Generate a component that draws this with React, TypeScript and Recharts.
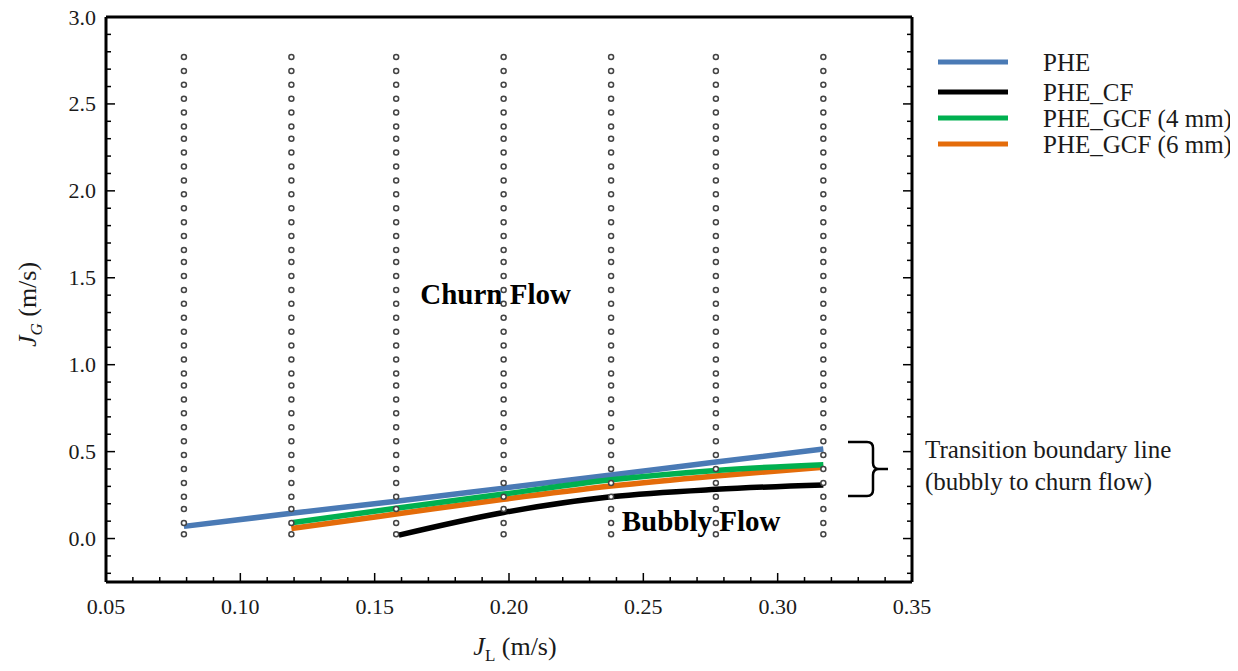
import React from "react";
import {
  ComposedChart,
  Line,
  Scatter,
  XAxis,
  YAxis,
  Legend,
  ReferenceDot,
  Label,
} from "recharts";

// J_L positions of the measured test points, and the J_G levels of each column
const jlColumns = [0.079, 0.119, 0.158, 0.198, 0.238, 0.277, 0.317];
const jgLevels = [
  0.025, 0.09, 0.17, 0.24, 0.32, 0.4, 0.48, 0.56, 0.64, 0.72, 0.8, 0.88, 0.95,
  1.03, 1.11, 1.19, 1.27, 1.35, 1.43, 1.51, 1.59, 1.66, 1.74, 1.82, 1.9, 1.98,
  2.06, 2.14, 2.22, 2.3, 2.37, 2.45, 2.53, 2.61, 2.69, 2.77,
];

// transition boundary lines
const pheJL = [0.079, 0.119, 0.158, 0.198, 0.238, 0.277, 0.317];
const pheJG = [0.07, 0.145, 0.215, 0.29, 0.365, 0.44, 0.515];
const pheCfJL = [0.159, 0.198, 0.238, 0.277, 0.317];
const pheCfJG = [0.02, 0.15, 0.24, 0.283, 0.308];
const gcf4JL = [0.119, 0.158, 0.198, 0.238, 0.277, 0.317];
const gcf4JG = [0.091, 0.174, 0.256, 0.338, 0.392, 0.425];
const gcf6JL = [0.119, 0.158, 0.198, 0.238, 0.277, 0.317];
const gcf6JG = [0.058, 0.141, 0.226, 0.302, 0.36, 0.41];

const xMajorTicks = [0.05, 0.1, 0.15, 0.2, 0.25, 0.3, 0.35];
const xMinorTicks = [
  0.06, 0.07, 0.08, 0.09, 0.11, 0.12, 0.13, 0.14, 0.16, 0.17, 0.18, 0.19, 0.21,
  0.22, 0.23, 0.24, 0.26, 0.27, 0.28, 0.29, 0.31, 0.32, 0.33, 0.34,
];
const yMajorTicks = [0, 0.5, 1, 1.5, 2, 2.5, 3];
const yMinorTicks = [
  -0.2, -0.1, 0.1, 0.2, 0.3, 0.4, 0.6, 0.7, 0.8, 0.9, 1.1, 1.2, 1.3, 1.4, 1.6,
  1.7, 1.8, 1.9, 2.1, 2.2, 2.3, 2.4, 2.6, 2.7, 2.8, 2.9,
];

const xTicks = [...xMajorTicks, ...xMinorTicks].sort((a, b) => a - b);
const yTicks = [...yMajorTicks, ...yMinorTicks].sort((a, b) => a - b);

const toPoints = (xs: number[], ys: number[]) =>
  xs.map((x, i) => ({ x, y: ys[i] }));

const pointData = jlColumns.flatMap((x) => jgLevels.map((y) => ({ x, y })));

const series = [
  { name: "PHE", color: "#4a7ab5", data: toPoints(pheJL, pheJG) },
  { name: "PHE_CF", color: "#000000", data: toPoints(pheCfJL, pheCfJG) },
  { name: "PHE_GCF (4 mm)", color: "#00b050", data: toPoints(gcf4JL, gcf4JG) },
  { name: "PHE_GCF (6 mm)", color: "#e46c0a", data: toPoints(gcf6JL, gcf6JG) },
];
// draw order: orange under green
const drawOrder = [0, 1, 3, 2];

const font = "'Liberation Serif', 'Times New Roman', serif";
const textColor = "#1a1a1a";

const BottomTick = (props: any) => {
  const { x, y, payload } = props;
  const major = xMajorTicks.includes(payload.value);
  return (
    <g>
      <line x1={x} y1={y} x2={x} y2={y - (major ? 9 : 5)} stroke="#000" strokeWidth={1.5} />
      {major && (
        <text x={x} y={y + 24} textAnchor="middle" dominantBaseline="central"
          fontSize={22} fontFamily={font} fill={textColor}>
          {payload.value.toFixed(2)}
        </text>
      )}
    </g>
  );
};

const TopTick = (props: any) => {
  const { x, y, payload } = props;
  const major = xMajorTicks.includes(payload.value);
  return <line x1={x} y1={y} x2={x} y2={y + (major ? 9 : 5)} stroke="#000" strokeWidth={1.5} />;
};

const LeftTick = (props: any) => {
  const { x, y, payload } = props;
  const major = yMajorTicks.includes(payload.value);
  return (
    <g>
      <line x1={x} y1={y} x2={x + (major ? 9 : 5)} y2={y} stroke="#000" strokeWidth={1.5} />
      {major && (
        <text x={x - 10} y={y} textAnchor="end" dominantBaseline="central"
          fontSize={22} fontFamily={font} fill={textColor}>
          {payload.value.toFixed(1)}
        </text>
      )}
    </g>
  );
};

const RightTick = (props: any) => {
  const { x, y, payload } = props;
  const major = yMajorTicks.includes(payload.value);
  return <line x1={x} y1={y} x2={x - (major ? 9 : 5)} y2={y} stroke="#000" strokeWidth={1.5} />;
};

const XTitle = ({ viewBox }: any) => (
  <text x={viewBox.x + viewBox.width / 2 + 6} y={viewBox.y + 73} textAnchor="middle"
    fontSize={26} fontFamily={font} fill={textColor}>
    <tspan fontStyle="italic">J</tspan>
    <tspan dy={6} fontSize={17}>L</tspan>
    <tspan dy={-6}> (m/s)</tspan>
  </text>
);

const YTitle = ({ viewBox }: any) => (
  <text transform={`translate(28, ${viewBox.y + viewBox.height / 2 + 5}) rotate(-90)`}
    textAnchor="middle" fontSize={26} fontFamily={font} fill={textColor}>
    <tspan fontStyle="italic">J</tspan>
    <tspan dy={6} fontSize={17} fontStyle="italic">G</tspan>
    <tspan dy={-6}> (m/s)</tspan>
  </text>
);

const rowY = [16, 46, 72, 98];
const LegendBox = () => (
  <svg width={310} height={120} style={{ overflow: "visible" }}>
    {series.map((s, i) => (
      <g key={s.name}>
        <line x1={0} x2={70} y1={rowY[i]} y2={rowY[i]} stroke={s.color} strokeWidth={5} />
        <text x={105} y={rowY[i]} dominantBaseline="central" fontSize={25}
          fontFamily={font} fill={textColor}>
          {s.name}
        </text>
      </g>
    ))}
  </svg>
);

const Brace = (props: any) => {
  const { cx, cy } = props;
  const bx = cx - 39;
  return (
    <g>
      <path
        d={`M ${bx - 25} ${cy - 27} H ${bx - 6} Q ${bx} ${cy - 27} ${bx} ${cy - 21} V ${cy - 6} Q ${bx} ${cy} ${bx + 6} ${cy} H ${bx + 15} M ${bx + 6} ${cy} Q ${bx} ${cy} ${bx} ${cy + 6} V ${cy + 21} Q ${bx} ${cy + 27} ${bx - 6} ${cy + 27} H ${bx - 25}`}
        fill="none" stroke="#000" strokeWidth={2.5} />
      <text x={cx + 13} y={cy - 11} fontSize={25} fontFamily={font} fill={textColor}>
        Transition boundary line
      </text>
      <text x={cx + 13} y={cy + 21} fontSize={25} fontFamily={font} fill={textColor}>
        (bubbly to churn flow)
      </text>
    </g>
  );
};

const RegionText = (label: string) => (props: any) => (
  <text x={props.cx} y={props.cy} textAnchor="middle" fontSize={29} fontWeight="bold"
    fontFamily={font} fill="#000">
    {label}
  </text>
);

const App: React.FC = () => {
  return (
    <div style={{ marginTop: -8 }}>
      <ComposedChart width={1222} height={668} margin={{ top: 12, right: 308, bottom: 26, left: 0 }}>
        <XAxis type="number" dataKey="x" domain={[0.05, 0.35]} ticks={xTicks} interval={0}
          allowDataOverflow tick={BottomTick} tickSize={0} tickMargin={0} tickLine={false}
          height={60} axisLine={{ stroke: "#000", strokeWidth: 3 }}>
          <Label content={XTitle} />
        </XAxis>
        <XAxis xAxisId="top" orientation="top" type="number" domain={[0.05, 0.35]}
          ticks={xTicks} interval={0} allowDataOverflow tick={TopTick} tickSize={0}
          tickMargin={0} tickLine={false} height={5}
          axisLine={{ stroke: "#000", strokeWidth: 3 }} />
        <YAxis type="number" dataKey="y" domain={[-0.25, 3]} ticks={yTicks} interval={0}
          allowDataOverflow tick={LeftTick} tickSize={0} tickMargin={0} tickLine={false}
          width={98} axisLine={{ stroke: "#000", strokeWidth: 3 }}>
          <Label content={YTitle} />
        </YAxis>
        <YAxis yAxisId="right" orientation="right" type="number" domain={[-0.25, 3]}
          ticks={yTicks} interval={0} allowDataOverflow tick={RightTick} tickSize={0}
          tickMargin={0} tickLine={false} width={10}
          axisLine={{ stroke: "#000", strokeWidth: 3 }} />

        <ReferenceDot x={0.195} y={1.35} r={0} ifOverflow="visible" shape={RegionText("Churn Flow")} />
        <ReferenceDot x={0.2715} y={0.045} r={0} ifOverflow="visible" shape={RegionText("Bubbly Flow")} />

        <Scatter data={pointData} legendType="none" isAnimationActive={false}
          shape={(p: any) => (
            <circle cx={p.cx} cy={p.cy} r={2.5} fill="#fff" stroke="#444" strokeWidth={1.5} />
          )} />

        {drawOrder.map((i) => (
          <Line key={series[i].name} data={series[i].data} dataKey="y" name={series[i].name}
            type="monotone" stroke={series[i].color} strokeWidth={5.5} dot={false}
            activeDot={false} isAnimationActive={false} />
        ))}

        <ReferenceDot x={0.35} y={0.4} r={0} ifOverflow="visible" shape={Brace} />

        <Legend layout="horizontal" verticalAlign="middle" align="center" content={LegendBox}
          wrapperStyle={{ position: "absolute", left: 930, top: 46, width: 310, height: 120 }} />
      </ComposedChart>
    </div>
  );
};

export default App;
